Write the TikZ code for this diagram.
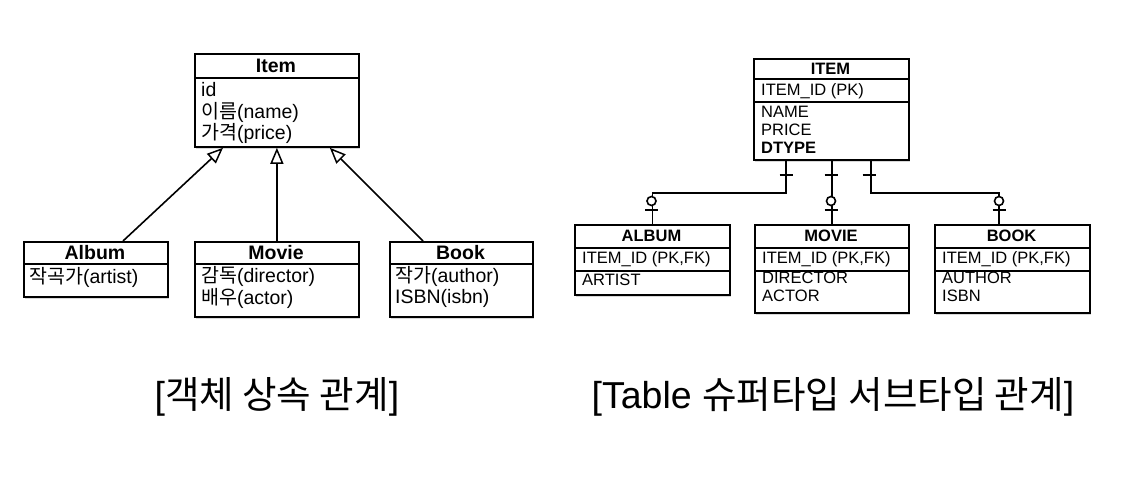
\documentclass[tikz,border=0pt]{standalone}
\usepackage{fontspec}
\setmainfont{Liberation Sans}
\newfontfamily\kr{Noto Sans CJK KR}
\usetikzlibrary{arrows.meta,shadows}
\begin{document}
\begin{tikzpicture}[x=1pt,y=-1pt,
  box/.style={draw=black, line width=1.8pt, fill=white, anchor=north west, inner sep=0pt,
    drop shadow={shadow xshift=1.5pt,shadow yshift=-2.5pt,opacity=0.3}},
  sep/.style={line width=1.4pt},
  uhead/.style={font=\bfseries\fontsize{19.5}{19.5}\selectfont, inner sep=0pt},
  uattr/.style={anchor=west, inner sep=0pt, font=\fontsize{19.5}{19.5}\selectfont},
  ehead/.style={font=\bfseries\fontsize{16.5}{16.5}\selectfont, inner sep=0pt},
  eattr/.style={anchor=west, inner sep=0pt, font=\fontsize{16.5}{16.5}\selectfont},
  inh/.style={line width=1.6pt, -{Triangle[open, length=16pt, width=13pt, line width=1.5pt]}},
  rel/.style={line width=1.6pt},
  caption/.style={font=\fontsize{37.5}{37.5}\selectfont, inner sep=0pt}
]
\useasboundingbox[fill=white] (0,0) rectangle (1121,480);

% ---------- left: object inheritance ----------
\node[box, minimum width=164pt, minimum height=93pt] (item) at (194,53) {};
\draw[sep] (194,78) -- (358,78);
\node[uhead] (itemh) at (276,65.5) {Item};
\node[uattr] (itema1) at (201,90) {id};
\node[uattr] (itema2) at (201,112) {{\kr 이름}(name)};
\node[uattr] (itema3) at (201,133) {{\kr 가격}(price)};

\node[box, minimum width=144pt, minimum height=55pt] (album) at (23,241) {};
\draw[sep] (23,264) -- (167,264);
\node[uhead] (albumh) at (95,252.5) {Album};
\node[uattr] (albuma1) at (29,277) {{\kr 작곡가}(artist)};

\node[box, minimum width=164pt, minimum height=75pt] (movie) at (194,241) {};
\draw[sep] (194,264) -- (358,264);
\node[uhead] (movieh) at (276,252.5) {Movie};
\node[uattr] (moviea1) at (201,276) {{\kr 감독}(director)};
\node[uattr] (moviea2) at (201,298) {{\kr 배우}(actor)};

\node[box, minimum width=143pt, minimum height=75pt] (book) at (389,241) {};
\draw[sep] (389,264) -- (532,264);
\node[uhead] (bookh) at (460.5,252.5) {Book};
\node[uattr] (booka1) at (395,276) {{\kr 작가}(author)};
\node[uattr] (booka2) at (395,298) {ISBN(isbn)};

\draw[inh] ([xshift=100pt]album.north west) -- ([xshift=29pt]item.south west);
\draw[inh] (movie.north) -- (item.south -| movie.north);
\draw[inh] ([xshift=34pt]book.north west) -- ([xshift=-30pt]item.south east);

% ---------- right: table super/sub type ----------
\node[box, minimum width=155pt, minimum height=101pt] (ITEM) at (753,58) {};
\draw[sep] (753,79) -- (908,79);
\draw[sep] (753,102) -- (908,102);
\node[ehead] (ITEMh) at (830.5,68.5) {ITEM};
\node[eattr] (ITEMa1) at (761,91) {ITEM\_ID (PK)};
\node[eattr] (ITEMa2) at (761,112) {NAME};
\node[eattr] (ITEMa3) at (761,130) {PRICE};
\node[eattr, font=\bfseries\fontsize{16.5}{16.5}\selectfont] (ITEMa4) at (761,148) {DTYPE};

\node[box, minimum width=155pt, minimum height=70pt] (ALBUM) at (574,224) {};
\draw[sep] (574,248) -- (729,248);
\draw[sep] (574,271) -- (729,271);
\node[ehead] (ALBUMh) at (651.5,236) {ALBUM};
\node[eattr] (ALBUMa1) at (582,259.5) {ITEM\_ID (PK,FK)};
\node[eattr] (ALBUMa2) at (582,280) {ARTIST};

\node[box, minimum width=154pt, minimum height=88pt] (MOVIE) at (754,224) {};
\draw[sep] (754,248) -- (908,248);
\draw[sep] (754,271) -- (908,271);
\node[ehead] (MOVIEh) at (831,236) {MOVIE};
\node[eattr] (MOVIEa1) at (762,259.5) {ITEM\_ID (PK,FK)};
\node[eattr] (MOVIEa2) at (762,278) {DIRECTOR};
\node[eattr] (MOVIEa3) at (762,296) {ACTOR};

\node[box, minimum width=155pt, minimum height=88pt] (BOOK) at (934,224) {};
\draw[sep] (934,248) -- (1089,248);
\draw[sep] (934,271) -- (1089,271);
\node[ehead] (BOOKh) at (1011.5,236) {BOOK};
\node[eattr] (BOOKa1) at (942,259.5) {ITEM\_ID (PK,FK)};
\node[eattr] (BOOKa2) at (942,278) {AUTHOR};
\node[eattr] (BOOKa3) at (942,296) {ISBN};

% connectors
\draw[rel] ([xshift=33pt]ITEM.south west) -- ++(0,32) -| (ALBUM.north);
\draw[rel] (ITEM.south -| MOVIE.north) -- (MOVIE.north);
\draw[rel] ([xshift=-39pt]ITEM.south east) -- ++(0,32) -| ([xshift=65pt]BOOK.north west);

% markers: one (bar) at ITEM side, zero-or-one at child side
\foreach \x in {786,831,869}{
  \draw[rel] (\x-6.5,175) -- (\x+6.5,175);
}
\foreach \x in {651.5,831,999}{
  \draw[rel, fill=white] (\x,201) circle (4.5pt);
  \draw[rel] (\x-6.5,210) -- (\x+6.5,210);
}

% ---------- captions ----------
\node[caption] (cap1) at (277,397) {[{\kr 객체 상속 관계}]};
\node[caption] (cap2) at (833,397) {[Table {\kr 슈퍼타입 서브타입 관계}]};
\end{tikzpicture}
\end{document}
